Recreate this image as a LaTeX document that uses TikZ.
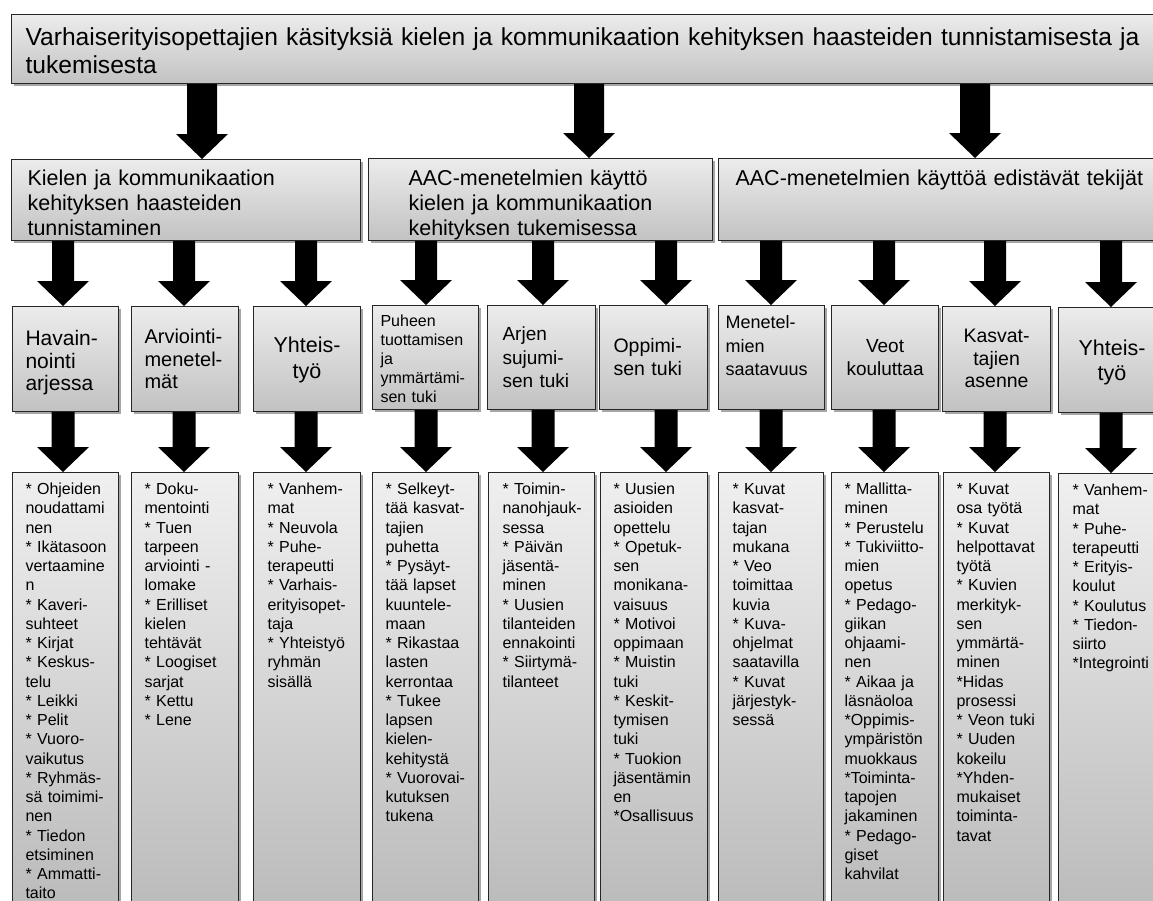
\documentclass[tikz,border=0pt]{standalone}
\usepackage{fontspec}
\setmainfont{Liberation Sans}
\usetikzlibrary{calc,shadows}
\hyphenpenalty=10000
\exhyphenpenalty=10000
\newcommand\blkarrow[4]{%
  \fill[blk] ($(#1.south -| #3)+(-#4/2,0)$) -- ($(#2.north -| #3)+(-#4/2,-25)$)
    -- ($(#2.north -| #3)+(-26,-25)$) -- (#2.north -| #3)
    -- ($(#2.north -| #3)+(26,-25)$) -- ($(#2.north -| #3)+(#4/2,-25)$)
    -- ($(#1.south -| #3)+(#4/2,0)$) -- cycle;}
\newcommand\nl{\\{}}
\tikzset{
  bx/.style={draw=black!85, line width=1.1pt, top color=gray!15, bottom color=gray!48,
    drop shadow={shadow xshift=2pt, shadow yshift=-2pt, opacity=.35, fill=black},
    anchor=north west, inner ysep=0pt, align=left},
  bxlow/.style={bx, top color=gray!12, bottom color=gray!56,
    font=\fontsize{16}{19.25}\selectfont, text height=22pt, text depth=438pt},
  ftwo/.style={font=\fontsize{21.5}{25}\selectfont},
  blk/.style={fill=black}
}
\begin{document}
\begin{tikzpicture}[x=1pt,y=-1pt]
\path[fill=white,use as bounding box] (0,0) rectangle (1153,900);

% arrow x positions
\coordinate (a1) at (202,0);
\coordinate (a2) at (589,0);
\coordinate (a3) at (975,0);
\coordinate (c1) at (63,0);
\coordinate (c2) at (184,0);
\coordinate (c3) at (306,0);
\coordinate (c4) at (426,0);
\coordinate (c5) at (543,0);
\coordinate (c6) at (666,0);
\coordinate (c7) at (771,0);
\coordinate (c8) at (884,0);
\coordinate (c9) at (995,0);
\coordinate (c10) at (1111,0);

% top box
\node[bx, font=\fontsize{24.6}{28}\selectfont, inner xsep=14pt, text width=1300pt,
  text height=31pt, text depth=38pt] (top) at (11,14)
  {Varhaiserityisopettajien käsityksiä kielen ja kommunikaation kehityksen haasteiden tunnistamisesta ja\\tukemisesta};

% second row
\node[bx, ftwo, inner xsep=16pt, text width=317pt, text height=26pt, text depth=55pt] (k1) at (11,159)
  {Kielen ja kommunikaation\\kehityksen haasteiden\\tunnistaminen};
\node[bx, ftwo, inner xsep=40pt, text width=264pt, text height=27pt, text depth=55pt] (k2) at (368,158)
  {AAC-menetelmien käyttö\\kielen ja kommunikaation\\kehityksen tukemisessa};
\node[bx, ftwo, inner xsep=17pt, text width=600pt, text height=27pt, text depth=55pt] (k3) at (718,158)
  {AAC-menetelmien käyttöä edistävät tekijät};

% third row
\node[bx, font=\fontsize{21}{22.5}\selectfont, inner xsep=13pt, text width=80pt, text height=39pt, text depth=66pt] (h1) at (12,306)
  {Havain-\\nointi\\arjessa};
\node[bx, font=\fontsize{20}{22.5}\selectfont, inner xsep=13pt, text width=81pt, text height=37pt, text depth=68pt] (h2) at (131,306)
  {Arviointi-\\menetel-\\mät};
\node[bx, font=\fontsize{21.5}{26}\selectfont, align=center, inner xsep=10pt, text width=87pt, text height=46pt, text depth=59pt] (h3) at (253,306)
  {Yhteis-\\työ};
\node[bx, font=\fontsize{16}{19}\selectfont, inner xsep=8pt, text width=90pt, text height=21pt, text depth=83pt] (h4) at (372,305)
  {Puheen\\tuottamisen\\ja\\ymmärtämi-\\sen~tuki};
\node[bx, font=\fontsize{19}{23.5}\selectfont, inner xsep=15pt, text width=78pt, text height=35pt, text depth=69pt] (h5) at (487,305)
  {Arjen\\sujumi-\\sen~tuki};
\node[bx, font=\fontsize{19.5}{23}\selectfont, inner xsep=14pt, text width=80pt, text height=47pt, text depth=57pt] (h6) at (599,305)
  {Oppimi-\\sen~tuki};
\node[bx, font=\fontsize{18}{23.5}\selectfont, inner xsep=7pt, text width=92pt, text height=23pt, text depth=81pt] (h7) at (718,305)
  {Menetel-\\mien\\saatavuus};
\node[bx, font=\fontsize{19}{23}\selectfont, align=center, inner xsep=8pt, text width=91pt, text height=47pt, text depth=57pt] (h8) at (831,305)
  {Veot\\kouluttaa};
\node[bx, font=\fontsize{19.5}{22.5}\selectfont, align=center, inner xsep=8pt, text width=92pt, text height=36pt, text depth=69pt] (h9) at (942,306)
  {Kasvat-\\tajien\\asenne};
\node[bx, font=\fontsize{21.5}{25}\selectfont, align=center, inner xsep=8pt, text width=91pt, text height=48pt, text depth=57pt] (h10) at (1058,307)
  {Yhteis-\\työ};

% bottom row
\node[bxlow, inner xsep=13pt, text width=80pt] (d1) at (12,472)
  {*~Ohjeiden\nl noudattami\nl nen\nl *~Ikätasoon\nl vertaamine\nl n\nl *~Kaveri-\nl suhteet\nl *~Kirjat\nl *~Keskus-\nl telu\nl *~Leikki\nl *~Pelit\nl *~Vuoro-\nl vaikutus\nl *~Ryhmäs-\nl sä~toimimi-\nl nen\nl *~Tiedon\nl etsiminen\nl *~Ammatti-\nl taito};
\node[bxlow, inner xsep=13pt, text width=81pt] (d2) at (131,472)
  {*~Doku-\nl mentointi\nl *~Tuen\nl tarpeen\nl arviointi~-\nl lomake\nl *~Erilliset\nl kielen\nl tehtävät\nl *~Loogiset\nl sarjat\nl *~Kettu\nl *~Lene};
\node[bxlow, inner xsep=14pt, text width=79pt] (d3) at (253,472)
  {*~Vanhem-\nl mat\nl *~Neuvola\nl *~Puhe-\nl terapeutti\nl *~Varhais-\nl erityisopet-\nl taja\nl *~Yhteistyö\nl ryhmän\nl sisällä};
\node[bxlow, inner xsep=13pt, text width=80pt] (d4) at (372,472)
  {*~Selkeyt-\nl tää~kasvat-\nl tajien\nl puhetta\nl *~Pysäyt-\nl tää~lapset\nl kuuntele-\nl maan\nl *~Rikastaa\nl lasten\nl kerrontaa\nl *~Tukee\nl lapsen\nl kielen-\nl kehitystä\nl *~Vuorovai-\nl kutuksen\nl tukena};
\node[bxlow, inner xsep=14pt, text width=78pt] (d5) at (488,472)
  {*~Toimin-\nl nanohjauk-\nl sessa\nl *~Päivän\nl jäsentä-\nl minen\nl *~Uusien\nl tilanteiden\nl ennakointi\nl *~Siirtymä-\nl tilanteet};
\node[bxlow, inner xsep=13pt, text width=81pt] (d6) at (600,472)
  {*~Uusien\nl asioiden\nl opettelu\nl *~Opetuk-\nl sen\nl monikana-\nl vaisuus\nl *~Motivoi\nl oppimaan\nl *~Muistin\nl tuki\nl *~Keskit-\nl tymisen\nl tuki\nl *~Tuokion\nl jäsentämin\nl en\nl *Osallisuus};
\node[bxlow, inner xsep=14pt, text width=77pt] (d7) at (718,472)
  {*~Kuvat\nl kasvat-\nl tajan\nl mukana\nl *~Veo\nl toimittaa\nl kuvia\nl *~Kuva-\nl ohjelmat\nl saatavilla\nl *~Kuvat\nl järjestyk-\nl sessä};
\node[bxlow, inner xsep=13pt, text width=81pt] (d8) at (831,472)
  {*~Mallitta-\nl minen\nl *~Perustelu\nl *~Tukiviitto-\nl mien\nl opetus\nl *~Pedago-\nl giikan\nl ohjaami-\nl nen\nl *~Aikaa~ja\nl läsnäoloa\nl *Oppimis-\nl ympäristön\nl muokkaus\nl *Toiminta-\nl tapojen\nl jakaminen\nl *~Pedago-\nl giset\nl kahvilat};
\node[bxlow, inner xsep=13pt, text width=80pt] (d9) at (943,472)
  {*~Kuvat\nl osa~työtä\nl *~Kuvat\nl helpottavat\nl työtä\nl *~Kuvien\nl merkityk-\nl sen\nl ymmärtä-\nl minen\nl *Hidas\nl prosessi\nl *~Veon~tuki\nl *~Uuden\nl kokeilu\nl *Yhden-\nl mukaiset\nl toiminta-\nl tavat};
\node[bxlow, inner xsep=14pt, text width=92pt] (d10) at (1058,473)
  {*~Vanhem-\nl mat\nl *~Puhe-\nl terapeutti\nl *~Erityis-\nl koulut\nl *~Koulutus\nl *~Tiedon-\nl siirto\nl *Integrointi};

% arrows: top -> second row
\blkarrow{top}{k1}{a1}{30}
\blkarrow{top}{k2}{a2}{30}
\blkarrow{top}{k3}{a3}{30}
% second row -> third row
\blkarrow{k1}{h1}{c1}{22}
\blkarrow{k1}{h2}{c2}{22}
\blkarrow{k1}{h3}{c3}{22}
\blkarrow{k2}{h4}{c4}{22}
\blkarrow{k2}{h5}{c5}{22}
\blkarrow{k2}{h6}{c6}{22}
\blkarrow{k3}{h7}{c7}{22}
\blkarrow{k3}{h8}{c8}{22}
\blkarrow{k3}{h9}{c9}{22}
\blkarrow{k3}{h10}{c10}{22}
% third row -> bottom row
\blkarrow{h1}{d1}{c1}{23}
\blkarrow{h2}{d2}{c2}{23}
\blkarrow{h3}{d3}{c3}{23}
\blkarrow{h4}{d4}{c4}{23}
\blkarrow{h5}{d5}{c5}{23}
\blkarrow{h6}{d6}{c6}{23}
\blkarrow{h7}{d7}{c7}{23}
\blkarrow{h8}{d8}{c8}{23}
\blkarrow{h9}{d9}{c9}{23}
\blkarrow{h10}{d10}{c10}{23}
\end{tikzpicture}
\end{document}
